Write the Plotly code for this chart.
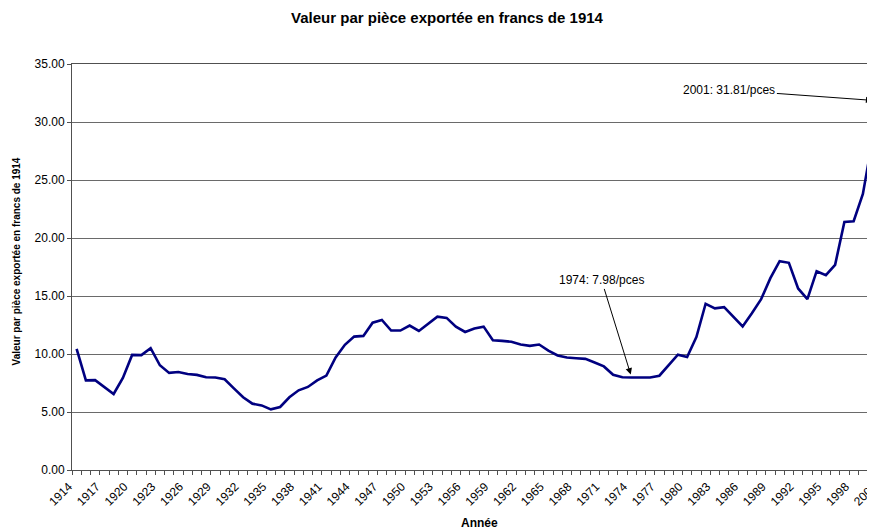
import plotly.graph_objects as go

# ---------------- data ----------------
years = list(range(1914, 2002))
values = [
    10.45, 7.73, 7.75, 7.13, 6.55, 7.94, 9.92, 9.90, 10.50, 9.03,   # 1914-1923
    8.37, 8.45, 8.28, 8.20, 8.00, 7.97, 7.82, 7.04, 6.27, 5.72,     # 1924-1933
    5.57, 5.23, 5.43, 6.27, 6.87, 7.16, 7.73, 8.14, 9.70, 10.79,    # 1934-1943
    11.50, 11.56, 12.70, 12.94, 12.02, 12.02, 12.45, 11.99, 12.62, 13.22,  # 1944-1953
    13.11, 12.36, 11.90, 12.19, 12.36, 11.19, 11.13, 11.05, 10.82, 10.70,  # 1954-1963
    10.82, 10.30, 9.87, 9.70, 9.64, 9.58, 9.27, 8.93, 8.21, 7.99,   # 1964-1973
    7.98, 8.00, 7.97, 8.13, 8.99, 9.94, 9.74, 11.46, 14.33, 13.93,  # 1974-1983
    14.04, 13.18, 12.38, 13.52, 14.73, 16.54, 18.00, 17.86, 15.65, 14.73,  # 1984-1993
    17.14, 16.80, 17.69, 21.39, 21.45, 23.80, 28.30, 31.81,         # 1994-2001
]
tick_years = list(range(1914, 2002, 3))
tick_labels = [str(y) for y in tick_years]
y_ticks = [0, 5, 10, 15, 20, 25, 30, 35]

title_text = "Valeur par pièce exportée en francs de 1914"
y_title = "Valeur par pièce exportée en francs de 1914"
x_title = "Année"
note_year_1 = 1974
note_year_2 = 2001

# ---------------- styling ----------------
FONT = "Liberation Sans, Arial, sans-serif"
X_RANGE = [years[0] - 0.5, years[-1] + 0.5]
AXIS_COLOR = "#505050"
GRID_COLOR = "#6a6a6a"

def val(year):
    return values[years.index(year)]

fig = go.Figure()
fig.add_trace(go.Scatter(
    x=years, y=values, mode="lines",
    line=dict(color="#000080", width=2.6),
    hoverinfo="skip", showlegend=False,
))

annotations = [
    dict(x=note_year_1, y=val(note_year_1), xref="x", yref="y",
         text=f"{note_year_1}: {val(note_year_1):.2f}/pces",
         showarrow=True, arrowhead=2, arrowsize=1.3, arrowwidth=1,
         arrowcolor="black", standoff=3, ax=-30, ay=-97,
         font=dict(family=FONT, size=12, color="black")),
    dict(x=note_year_2, y=val(note_year_2), xref="x", yref="y",
         text=f"{note_year_2}: {val(note_year_2):.2f}/pces",
         showarrow=True, arrowhead=2, arrowsize=1.3, arrowwidth=1,
         arrowcolor="black", standoff=9, ax=-152, ay=-11,
         font=dict(family=FONT, size=12, color="black")),
    dict(x=-0.0676, y=0.5136, xref="paper", yref="paper",
         text=f"<b>{y_title}</b>", textangle=-90, showarrow=False,
         xanchor="center", yanchor="middle",
         font=dict(family=FONT, size=10, color="black")),
    dict(x=0.501, y=-0.1305, xref="paper", yref="paper",
         text=f"<b>{x_title}</b>", showarrow=False,
         xanchor="center", yanchor="middle",
         font=dict(family=FONT, size=12, color="black")),
]

fig.update_layout(
    width=895, height=520,
    margin=dict(l=64, r=17, t=56, b=58),
    paper_bgcolor="white", plot_bgcolor="white",
    title=dict(text=f"<b>{title_text}</b>", x=439 / 895, xref="container",
               xanchor="center", y=1 - 10 / 520, yref="container", yanchor="middle",
               font=dict(family=FONT, size=15, color="black")),
    annotations=annotations,
    showlegend=False,
)

fig.update_xaxes(
    range=X_RANGE, tickmode="array", tickvals=tick_years, ticktext=tick_labels,
    tickangle=-45, ticks="", showgrid=False, zeroline=False,
    ticklabelstandoff=4, ticklabelshift=-8,
    showline=True, linecolor=AXIS_COLOR, linewidth=1, mirror=True,
    tickfont=dict(family=FONT, size=12, color="black"),
    minor=dict(tickmode="linear", tick0=years[0] - 0.5, dtick=1, ticks="outside",
               ticklen=4, tickcolor=AXIS_COLOR, showgrid=False),
)
fig.update_yaxes(
    range=[0, 35], tickmode="array", tickvals=y_ticks,
    tickformat=".2f", ticks="outside", ticklen=4, tickcolor=AXIS_COLOR,
    showgrid=True, gridcolor=GRID_COLOR, gridwidth=1, zeroline=False,
    showline=True, linecolor=AXIS_COLOR, linewidth=1,
    tickfont=dict(family=FONT, size=12, color="black"),
)

fig.write_html("out.html", config={"displayModeBar": False})
